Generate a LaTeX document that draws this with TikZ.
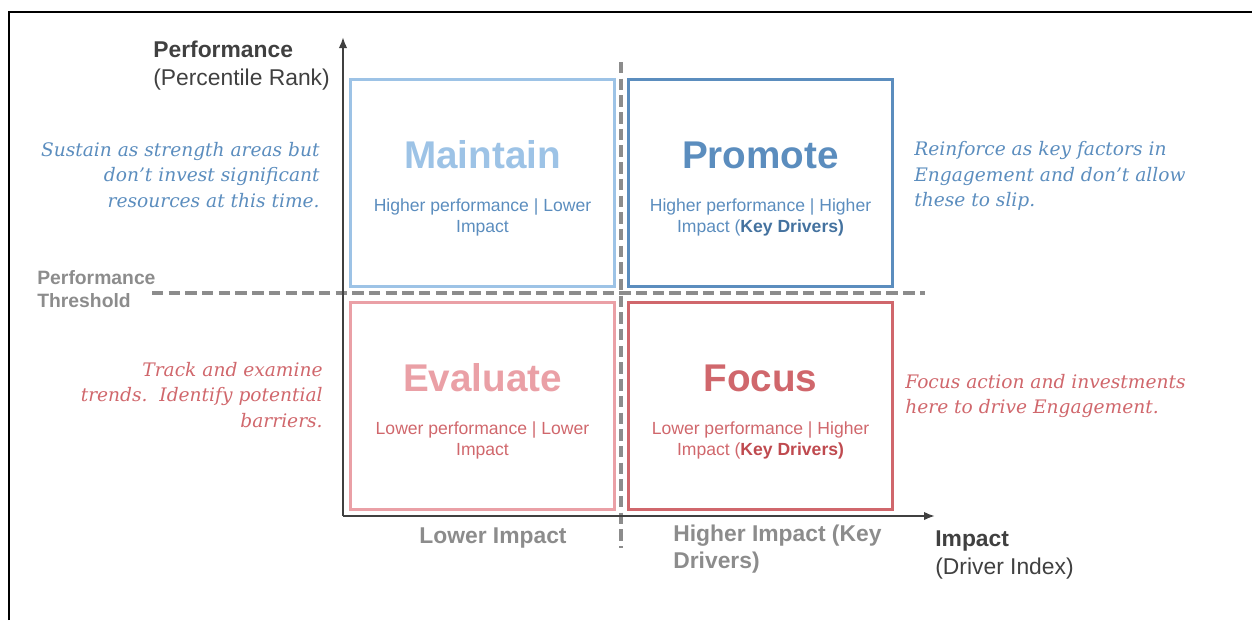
\documentclass[tikz,border=0pt]{standalone}
\usepackage{fontspec}
\setmainfont{Liberation Sans}
\newfontfamily\notefont{DejaVu Serif}
\usetikzlibrary{arrows.meta}

\definecolor{axisgray}{HTML}{404040}
\definecolor{threshgray}{HTML}{8C8C8C}
\definecolor{bluelight}{HTML}{9DC3E6}
\definecolor{bluemid}{HTML}{5B8DBE}
\definecolor{bluedark}{HTML}{44729F}
\definecolor{pinklight}{HTML}{EAA0A6}
\definecolor{redmid}{HTML}{D0676C}
\definecolor{reddark}{HTML}{BF4A4F}

\tikzset{
  quad/.style={draw,line width=1.7pt,minimum width=5.3cm,minimum height=4.16cm,inner sep=0pt},
  quadtitle/.style={font=\fontsize{22}{26}\selectfont\bfseries},
  quadsub/.style={font=\fontsize{10}{12}\selectfont,align=center},
  note/.style={font=\notefont\itshape\fontsize{10.6}{14.7}\selectfont,inner sep=0pt},
  axislabel/.style={font=\fontsize{13}{16}\selectfont,align=left,text=axisgray,inner sep=0pt},
  graylabel/.style={font=\fontsize{13}{15}\selectfont\bfseries,text=threshgray,inner sep=0pt},
  threshold/.style={threshgray,line width=2.2pt,dash pattern=on 6.5pt off 3pt}
}

\begin{document}
\begin{tikzpicture}[x=0.02cm,y=-0.02cm]
  \useasboundingbox (0,0) rectangle (1252,620);
  % frame
  \draw[line width=1.2pt] (9,620) -- (9,12) -- (1252,12);

  % quadrants
  \node[quad,draw=bluelight] (maintain) at (482.5,183) {};
  \node[quad,draw=bluemid]   (promote)  at (760.5,183) {};
  \node[quad,draw=pinklight] (evaluate) at (482.5,406) {};
  \node[quad,draw=redmid]    (focus)    at (760.5,406) {};

  \node[quadtitle,text=bluelight] (maintainT) at (482.5,155) {Maintain};
  \node[quadtitle,text=bluemid]   (promoteT)  at (760.5,155) {Promote};
  \node[quadtitle,text=pinklight] (evaluateT) at (482.5,378) {Evaluate};
  \node[quadtitle,text=redmid]    (focusT)    at (760.5,378) {Focus};

  \node[quadsub,text=bluemid] (maintainS) at (482.5,217) {Higher performance | Lower\\Impact};
  \node[quadsub,text=bluemid] (promoteS)  at (760.5,217)
    {Higher performance | Higher\\Impact (\textcolor{bluedark}{\bfseries Key Drivers)}};
  \node[quadsub,text=redmid]  (evaluateS) at (482.5,440) {Lower performance | Lower\\Impact};
  \node[quadsub,text=redmid]  (focusS)    at (760.5,440)
    {Lower performance | Higher\\Impact (\textcolor{reddark}{\bfseries Key Drivers)}};

  % threshold lines
  \coordinate (vtop) at (621,62);  \coordinate (vbot) at (621,548);
  \coordinate (hleft) at (152,293); \coordinate (hright) at (925,293);
  \draw[threshold] (vtop) -- (vbot);
  \draw[threshold] (hleft) -- (hright);

  % axes
  \coordinate (origin) at (343,516);
  \coordinate (ytip) at (343,37);
  \coordinate (xtip) at (935,516);
  \draw[axisgray,line width=1.1pt,-{Latex[length=2.2mm,width=1.7mm]}] (origin) -- (ytip);
  \draw[axisgray,line width=1.1pt,-{Latex[length=2.2mm,width=1.7mm]}] (origin) -- (xtip);

  % axis labels
  \node[axislabel,anchor=west] (perf) at (153,66) {\bfseries Performance\\(Percentile Rank)};
  \node[axislabel,anchor=west] (impact) at (935,555) {\bfseries Impact\\(Driver Index)};
  \node[graylabel] (lowimp) at (493,538) {Lower Impact};
  \node[graylabel,anchor=west,align=left] (highimp) at (673,549) {Higher Impact (Key\\Drivers)};
  \node[graylabel,anchor=west,align=left,font=\fontsize{11}{13}\selectfont\bfseries]
    (thresh) at (37,289.5) {Performance\\Threshold};

  % recommendations
  \node[note,text=bluemid,anchor=east,align=right] (maintainN) at (320,175)
    {Sustain as strength areas but\\don’t invest significant\\resources at this time.};
  \node[note,text=bluemid,anchor=west,align=left] (promoteN) at (914,176)
    {Reinforce as key factors in\\Engagement and don’t allow\\these to slip.};
  \node[note,text=redmid,anchor=east,align=right] (evaluateN) at (323,395)
    {Track and examine\\trends.\ \ Identify potential\\barriers.};
  \node[note,text=redmid,anchor=west,align=left] (focusN) at (905,396)
    {Focus action and investments\\here to drive Engagement.};
\end{tikzpicture}
\end{document}
